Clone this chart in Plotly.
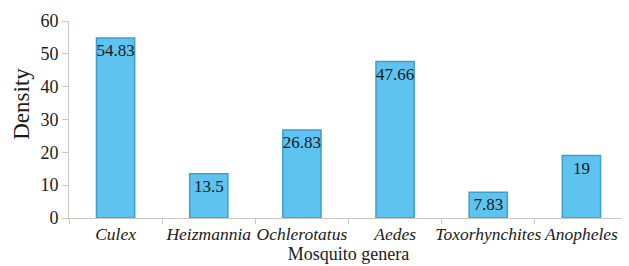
import plotly.graph_objects as go

genera = ["Culex", "Heizmannia", "Ochlerotatus", "Aedes", "Toxorhynchites", "Anopheles"]
density = [54.83, 13.5, 26.83, 47.66, 7.83, 19]
labels = ["54.83", "13.5", "26.83", "47.66", "7.83", "19"]
y_ticks = [0, 10, 20, 30, 40, 50, 60]

fig = go.Figure(go.Bar(
    x=genera, y=density, text=labels,
    textposition="inside", insidetextanchor="end", textangle=0,
    constraintext="none",
    textfont=dict(family="Liberation Serif", size=17, color="#1a1a1a"),
    marker=dict(color="#5ec3ee", line=dict(color="#3b9fd0", width=1.5)),
    width=0.41,
))
# page body adds an 8px offset, so the figure is sized to fit the window
fig.update_layout(
    width=621, height=258,
    margin=dict(l=61, r=1, t=13, b=48),
    paper_bgcolor="white", plot_bgcolor="white",
    font=dict(family="Liberation Serif", color="#1a1a1a"),
    showlegend=False,
)
fig.add_annotation(
    text="Density", xref="paper", yref="paper", x=0, y=0.58,
    xshift=-47, xanchor="center", yanchor="middle", textangle=-90,
    showarrow=False, font=dict(size=23),
)
fig.update_yaxes(
    range=[0, 60], tickvals=y_ticks, showgrid=False, automargin=False,
    showline=True, linecolor="#cfc6bd", linewidth=1,
    ticks="outside", ticklen=6, tickcolor="#cfc6bd",
    tickfont=dict(size=18),
)
fig.update_xaxes(
    showgrid=False, showline=True, linecolor="#cfc6bd", linewidth=1,
    automargin=False,
    ticks="outside", tickson="boundaries", ticklen=5, tickcolor="#cfc6bd",
    tickangle=0,
    tickfont=dict(size=17.5, style="italic"),
    title=dict(text="Mosquito genera", font=dict(size=18), standoff=4),
)
fig.write_html("out.html")
